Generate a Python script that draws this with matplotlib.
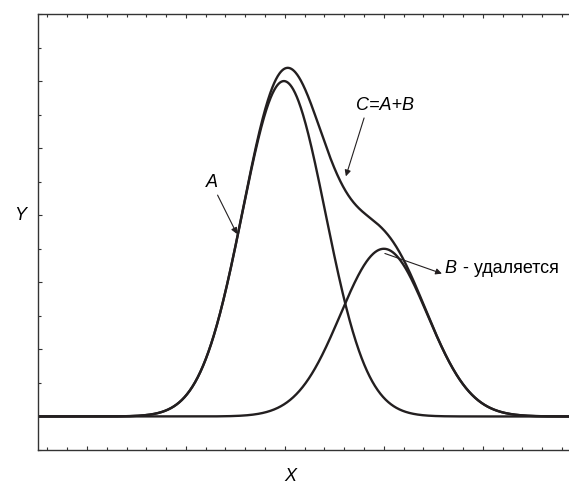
import numpy as np
import matplotlib
matplotlib.use('Agg')
import matplotlib.pyplot as plt
from matplotlib.ticker import MultipleLocator, NullFormatter

plt.rcParams['font.family'] = ['Liberation Sans', 'DejaVu Sans']

# Peak parameters (center, height, width)
peak_names = ['A', 'B']
peak_centers = [9.95, 15.0]
peak_heights = [5.0, 2.5]
peak_widths = [2.1, 2.2]

x = np.linspace(-2.5, 24.4, 1200)
curves = [h * np.exp(-(x - c) ** 2 / (2 * w ** 2))
          for c, h, w in zip(peak_centers, peak_heights, peak_widths)]
total = curves[0] + curves[1]

ink = '#231f20'

fig = plt.figure(figsize=(5.69, 4.86), dpi=100)
ax = fig.add_axes([38 / 569, 36 / 486, 1 - 38 / 569, (450 - 14) / 486])

for y in curves:
    ax.plot(x, y, color=ink, lw=1.7, solid_capstyle='butt')
ax.plot(x, total, color=ink, lw=1.7, solid_capstyle='butt')

ax.set_xlim(-2.47, 24.35)
ax.set_ylim(-0.5, 6.0)

ax.xaxis.set_major_locator(MultipleLocator(5))
ax.xaxis.set_minor_locator(MultipleLocator(1))
ax.yaxis.set_major_locator(MultipleLocator(1))
ax.yaxis.set_minor_locator(MultipleLocator(0.5))
ax.xaxis.set_major_formatter(NullFormatter())
ax.yaxis.set_major_formatter(NullFormatter())
ax.tick_params(which='both', direction='in', top=True, bottom=True, left=True,
               right=False, color='#333333', width=0.8)
ax.tick_params(which='major', length=3)
ax.tick_params(which='minor', length=2)

ax.spines['right'].set_visible(False)
for s in ['left', 'top', 'bottom']:
    ax.spines[s].set_color('#333333')
    ax.spines[s].set_linewidth(1.0)

# axis titles placed like the original
fig.text(290 / 569, 1 - 476 / 486, 'X', fontsize=13, style='italic',
         ha='center', va='center')
fig.text(20 / 569, 1 - 215 / 486, 'Y', fontsize=13, style='italic',
         ha='center', va='center')

arrow = dict(arrowstyle='-|>', lw=0.8, color=ink, mutation_scale=9,
             shrinkA=0, shrinkB=0)

ax.text(6.31, 3.49, 'A', fontsize=13, style='italic', ha='center', va='center')
ax.annotate('', xy=(7.58, 2.72), xytext=(6.6, 3.3), arrowprops=arrow)

ax.text(15.05, 4.63, 'C=A+B', fontsize=13, style='italic', ha='center', va='center')
ax.annotate('', xy=(13.08, 3.58), xytext=(14.0, 4.45), arrowprops=arrow)

ax.annotate('', xy=(17.93, 2.13), xytext=(15.05, 2.43), arrowprops=arrow)
ax.text(18.08, 2.21, 'B', fontsize=13, style='italic', ha='left', va='center')
ax.text(18.74, 2.21, ' - удаляется', fontsize=13, ha='left', va='center')

fig.savefig('out.png', dpi=100)
